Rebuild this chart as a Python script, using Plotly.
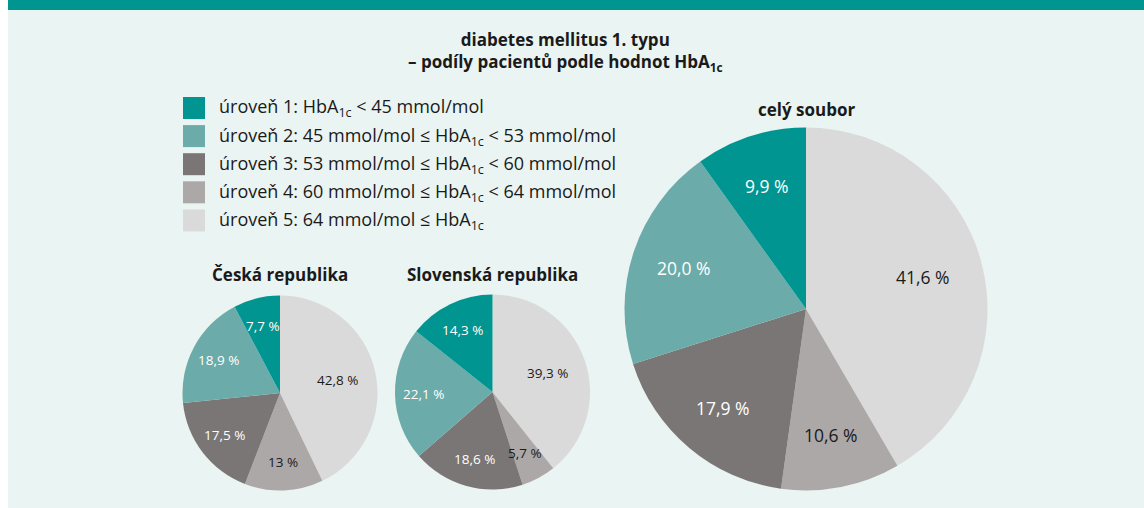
import math
import plotly.graph_objects as go

W, H = 1144, 508

levels = ["úroveň 1", "úroveň 2", "úroveň 3", "úroveň 4", "úroveň 5"]
legend_texts = [
    "úroveň 1: HbA<sub>1c</sub> < 45 mmol/mol",
    "úroveň 2: 45 mmol/mol ≤ HbA<sub>1c</sub> < 53 mmol/mol",
    "úroveň 3: 53 mmol/mol ≤ HbA<sub>1c</sub> < 60 mmol/mol",
    "úroveň 4: 60 mmol/mol ≤ HbA<sub>1c</sub> < 64 mmol/mol",
    "úroveň 5: 64 mmol/mol ≤ HbA<sub>1c</sub>",
]
colors = ["#009590", "#6babaa", "#7a7675", "#aca8a7", "#dbdada"]
text_colors = ["#ffffff", "#ffffff", "#ffffff", "#1a1a1a", "#1a1a1a"]

cz_values = [7.7, 18.9, 17.5, 13, 42.8]
sk_values = [14.3, 22.1, 18.6, 5.7, 39.3]
all_values = [9.9, 20.0, 17.9, 10.6, 41.6]

FONT = "Open Sans"
DARK = "#1a1a1a"


def fmt(v):
    return str(v).replace(".", ",") + " %"


def px_dom(cx, cy, r):
    return dict(x=[(cx - r) / W, (cx + r) / W],
                y=[(H - (cy + r)) / H, (H - (cy - r)) / H])


fig = go.Figure()
annotations = []
shapes = [
    dict(type="rect", xref="paper", yref="paper", x0=8 / W, x1=1, y0=0, y1=1,
         fillcolor="#eaf4f2", line=dict(width=0), layer="below"),
    dict(type="rect", xref="paper", yref="paper", x0=8 / W, x1=1,
         y0=(H - 10) / H, y1=1, fillcolor="#00968f", line=dict(width=0), layer="below"),
]


def ann(text, x, y, size, color=DARK, bold=False, xanchor="center"):
    annotations.append(dict(
        text=f"<b>{text}</b>" if bold else text, x=x / W, y=(H - y) / H,
        xref="paper", yref="paper", xanchor=xanchor, yanchor="middle",
        showarrow=False, font=dict(family=FONT, size=size, color=color),
    ))


def add_pie(values, cx, cy, r, size, big_k):
    # level 1 ends at 12 o'clock; slices run counter-clockwise from there
    fig.add_trace(go.Pie(
        labels=levels[::-1], values=values[::-1], sort=False,
        direction="clockwise", rotation=0,
        marker=dict(colors=colors[::-1], line=dict(width=0)),
        textinfo="none", domain=px_dom(cx, cy, r), showlegend=False,
        hovertemplate="%{label}: %{value} %<extra></extra>",
    ))
    total = sum(values)
    cum = 0.0
    for v, tc in zip(values, text_colors):
        a = 2 * math.pi * (cum + v / 2) / total
        cum += v
        k = big_k if v / total > 0.35 else 0.71
        ann(fmt(v), cx - k * r * math.sin(a), cy - k * r * math.cos(a), size, color=tc)


add_pie(cz_values, 280, 393, 97.5, 13.5, 0.6)
add_pie(sk_values, 492.5, 392, 97.5, 13.5, 0.6)
add_pie(all_values, 806, 309, 181.5, 17.5, 0.67)

ann("diabetes mellitus 1. typu<br>– podíly pacientů podle hodnot HbA<sub>1c</sub>",
    565, 51, 17, bold=True)
ann("Česká republika", 280, 275, 17, bold=True)
ann("Slovenská republika", 492, 275, 17, bold=True)
ann("celý soubor", 806, 110, 17, bold=True)

for i, (t, c) in enumerate(zip(legend_texts, colors)):
    yc = 108 + i * 28.1
    shapes.append(dict(type="rect", xref="paper", yref="paper",
                       x0=183 / W, x1=205 / W, y0=(H - yc - 11) / H, y1=(H - yc + 11) / H,
                       fillcolor=c, line=dict(width=0)))
    ann(t, 217, yc, 18, xanchor="left")

fig.update_layout(
    width=W, height=H, margin=dict(l=0, r=0, t=0, b=0),
    paper_bgcolor="#ffffff", plot_bgcolor="#ffffff",
    shapes=shapes, annotations=annotations,
)
fig.write_html("out.html")
